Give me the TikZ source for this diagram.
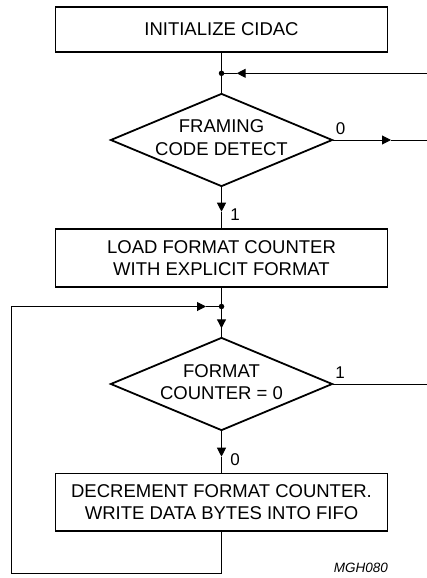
\documentclass[tikz,border=0pt]{standalone}
\usepackage{fontspec}
\setmainfont{Liberation Sans}
\usetikzlibrary{arrows.meta,shapes.geometric}
\begin{document}
\begin{tikzpicture}[x=1pt,y=-1pt,
  box/.style={draw, line width=1.8pt, minimum width=332pt, inner sep=0pt, align=center, font=\fontsize{18.5}{22.5}\selectfont},
  dia/.style={draw, diamond, line width=1.8pt, minimum width=222pt, minimum height=93pt, inner sep=0pt},
  txt/.style={align=center, inner sep=0pt, font=\fontsize{18.5}{22.5}\selectfont},
  lbl/.style={inner sep=0pt, font=\fontsize{17}{20}\selectfont},
  conn/.style={line width=1pt},
  arr/.style={conn, -{Triangle[length=9pt,width=9pt]}},
  jdot/.style={circle, fill, inner sep=0pt, minimum size=5.5pt}]
\useasboundingbox (0,0) rectangle (427,578);
% nodes
\node[box, minimum height=45pt] (b1) at (221.5,29.5) {INITIALIZE CIDAC};
\node[jdot] (j1) at (221.5,73.3) {};
\node[dia] (d1) at (221.5,140) {};
\node[txt] (d1t) at (221.5,137.6) {FRAMING\\CODE DETECT};
\node[box, minimum height=58pt] (b2) at (221.5,258) {LOAD FORMAT COUNTER\\WITH EXPLICIT FORMAT};
\node[jdot] (j2) at (221.5,306.5) {};
\node[dia] (d2) at (221.5,384) {};
\node[txt] (d2t) at (221.5,382) {FORMAT\\COUNTER = 0};
\node[box, minimum height=57.5pt] (b3) at (221.5,502.3) {DECREMENT FORMAT COUNTER.\\WRITE DATA BYTES INTO FIFO};
% coordinates
\coordinate (in1) at (427,73.3);
\coordinate (t1) at (236.7,73.3);
\coordinate (out0) at (427,140);
\coordinate (t2) at (391,140);
\coordinate (t3) at (221.5,211.7);
\coordinate (t4) at (221.5,328.3);
\coordinate (out1) at (427,384);
\coordinate (t6) at (221.5,456.7);
\coordinate (fb1) at (221.5,573);
\coordinate (fb2) at (11.7,573);
\coordinate (fb3) at (11.7,306.5);
\coordinate (t5) at (206,306.5);
% connectors
\draw[conn] (b1.south) -- (j1.center) -- (d1.north);
\draw[arr] (in1) -- (t1);
\draw[conn] (t1) -- (j1.center);
\draw[arr] (d1.east) -- (t2);
\draw[conn] (t2) -- (out0);
\draw[arr] (d1.south) -- (t3);
\draw[conn] (t3) -- (b2.north);
\draw[conn] (b2.south) -- (j2.center);
\draw[arr] (j2.center) -- (t4);
\draw[conn] (t4) -- (d2.north);
\draw[conn] (d2.east) -- (out1);
\draw[arr] (d2.south) -- (t6);
\draw[conn] (t6) -- (b3.north);
\draw[arr] (b3.south) -- (fb1) -- (fb2) -- (fb3) -- (t5);
\draw[conn] (t5) -- (j2.center);
% labels
\node[lbl] (l0a) at (340.5,129) {0};
\node[lbl] (l1a) at (235,214.5) {1};
\node[lbl] (l1b) at (340,372.5) {1};
\node[lbl] (l0b) at (235,460) {0};
\node[anchor=east, inner sep=0pt, font=\itshape\fontsize{13.5}{16}\selectfont] (code) at (388,568.3) {MGH080};
\end{tikzpicture}
\end{document}
